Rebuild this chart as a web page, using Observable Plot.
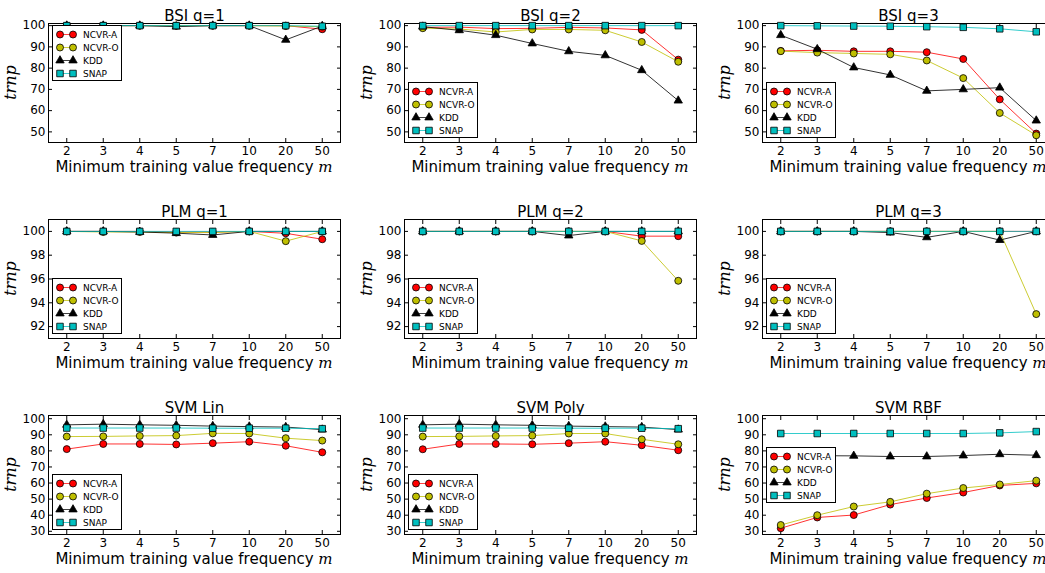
<!DOCTYPE html>
<html><head><meta charset="utf-8">
<script src="https://cdn.jsdelivr.net/npm/d3@7"></script>
<script src="https://cdn.jsdelivr.net/npm/@observablehq/plot@0.6"></script>
<style>
body{margin:0;background:#fff;overflow:hidden}
#wrap{position:relative;width:1045px;height:573px;overflow:hidden;font-family:"DejaVu Sans",sans-serif;background:#fff}
.panel{position:absolute}
.panel svg{max-width:none !important}
</style></head><body><div id="wrap"></div>
<script>
// ---- data ----
const mValues = [2, 3, 4, 5, 7, 10, 20, 50];
const methods = ["NCVR-A", "NCVR-O", "KDD", "SNAP"];
const methodColors = ["#ff0000", "#bfbf00", "#000000", "#00bfbf"];
const methodSymbols = ["circle", "circle", "triangle", "square"];

const bsiQ1NcvrA = [100, 100, 100, 100, 100, 100, 100, 98.3];
const bsiQ1NcvrO = [100, 100, 100, 100, 100, 100, 99.8, 99.5];
const bsiQ1Kdd   = [100, 100, 100, 99.5, 100, 100, 93.3, 99.8];
const bsiQ1Snap  = [100, 100, 100, 100, 100, 100, 100, 99.7];

const bsiQ2NcvrA = [99.2, 99.3, 98.6, 98.7, 99.2, 98.9, 98.0, 84.0];
const bsiQ2NcvrO = [98.8, 98.4, 97.0, 98.2, 98.2, 97.8, 92.3, 83.0];
const bsiQ2Kdd   = [99.5, 97.8, 95.5, 91.6, 87.9, 86.0, 79.0, 64.7];
const bsiQ2Snap  = [100, 100, 100, 100, 100, 100, 100, 100];

const bsiQ3NcvrA = [88.1, 88.4, 87.9, 87.9, 87.5, 84.3, 65.3, 49.2];
const bsiQ3NcvrO = [88.0, 87.3, 86.9, 86.5, 83.6, 75.3, 58.9, 48.4];
const bsiQ3Kdd   = [95.5, 88.9, 80.3, 76.8, 69.3, 70.0, 70.8, 55.3];
const bsiQ3Snap  = [100, 99.9, 99.8, 99.7, 99.5, 99.2, 98.5, 97.1];

const plmQ1NcvrA = [100, 100, 100, 99.95, 99.95, 100, 99.84, 99.34];
const plmQ1NcvrO = [100, 99.95, 99.95, 99.9, 99.9, 100, 99.18, 100];
const plmQ1Kdd   = [100, 100, 99.95, 99.85, 99.7, 100, 100, 100];
const plmQ1Snap  = [100, 100, 100, 100, 100, 100, 100, 100];

const plmQ2NcvrA = [100, 100, 100, 100, 100, 100, 99.6, 99.6];
const plmQ2NcvrO = [100, 100, 100, 100, 100, 100, 99.2, 95.85];
const plmQ2Kdd   = [100, 100, 100, 100, 99.65, 100, 100, 100];
const plmQ2Snap  = [100, 100, 100, 100, 100, 100, 100, 100];

const plmQ3NcvrA = [100, 100, 100, 100, 100, 100, 100, 100];
const plmQ3NcvrO = [100, 100, 100, 100, 100, 100, 100, 93.05];
const plmQ3Kdd   = [100, 100, 100, 99.9, 99.5, 100, 99.27, 100];
const plmQ3Snap  = [100, 100, 100, 100, 100, 100, 100, 100];

const svmLinNcvrA = [81.1, 84.3, 84.3, 84.0, 84.8, 85.7, 83.2, 79.1];
const svmLinNcvrO = [88.9, 89.0, 89.3, 89.5, 90.9, 90.8, 87.9, 86.4];
const svmLinKdd   = [96.2, 96.6, 96.2, 95.9, 95.4, 95.1, 94.8, 93.2];
const svmLinSnap  = [94.2, 94.2, 94.2, 94.2, 94.1, 94.1, 94.1, 93.8];

const svmPolyNcvrA = [81.0, 84.3, 84.3, 84.1, 84.8, 85.7, 83.5, 80.4];
const svmPolyNcvrO = [88.9, 89.0, 89.3, 89.5, 90.8, 90.8, 87.2, 84.1];
const svmPolyKdd   = [96.2, 96.6, 96.2, 95.9, 95.4, 95.1, 94.8, 93.2];
const svmPolySnap  = [94.2, 94.2, 94.2, 94.2, 94.1, 94.1, 94.1, 93.8];

const svmRbfNcvrA = [31.9, 38.6, 40.1, 46.6, 50.7, 54.1, 58.5, 59.8];
const svmRbfNcvrO = [33.9, 40.0, 45.4, 48.3, 53.4, 56.9, 59.1, 61.5];
const svmRbfKdd   = [76.8, 77.0, 76.9, 76.5, 76.5, 77.1, 77.9, 77.3];
const svmRbfSnap  = [90.8, 90.8, 90.8, 90.8, 90.8, 90.8, 91.2, 92.0];

const yTicksBSI = [50, 60, 70, 80, 90, 100];
const yTicksPLM = [92, 94, 96, 98, 100];
const yTicksSVM = [30, 40, 50, 60, 70, 80, 90, 100];
const yDomainBSI = [45, 101];
const yDomainPLM = [91, 101];
const yDomainSVM = [28, 102];

const xLabelText = "Minimum training value frequency ";
const xLabelVar = "m";
const yLabelText = "trnp";

const panels = [
  {title: "BSI q=1", series: [bsiQ1NcvrA, bsiQ1NcvrO, bsiQ1Kdd, bsiQ1Snap], yDomain: yDomainBSI, yTicks: yTicksBSI, legend: "upper"},
  {title: "BSI q=2", series: [bsiQ2NcvrA, bsiQ2NcvrO, bsiQ2Kdd, bsiQ2Snap], yDomain: yDomainBSI, yTicks: yTicksBSI, legend: "lower"},
  {title: "BSI q=3", series: [bsiQ3NcvrA, bsiQ3NcvrO, bsiQ3Kdd, bsiQ3Snap], yDomain: yDomainBSI, yTicks: yTicksBSI, legend: "lower"},
  {title: "PLM q=1", series: [plmQ1NcvrA, plmQ1NcvrO, plmQ1Kdd, plmQ1Snap], yDomain: yDomainPLM, yTicks: yTicksPLM, legend: "lower"},
  {title: "PLM q=2", series: [plmQ2NcvrA, plmQ2NcvrO, plmQ2Kdd, plmQ2Snap], yDomain: yDomainPLM, yTicks: yTicksPLM, legend: "lower"},
  {title: "PLM q=3", series: [plmQ3NcvrA, plmQ3NcvrO, plmQ3Kdd, plmQ3Snap], yDomain: yDomainPLM, yTicks: yTicksPLM, legend: "lower"},
  {title: "SVM Lin", series: [svmLinNcvrA, svmLinNcvrO, svmLinKdd, svmLinSnap], yDomain: yDomainSVM, yTicks: yTicksSVM, legend: "lower"},
  {title: "SVM Poly", series: [svmPolyNcvrA, svmPolyNcvrO, svmPolyKdd, svmPolySnap], yDomain: yDomainSVM, yTicks: yTicksSVM, legend: "lower"},
  {title: "SVM RBF", series: [svmRbfNcvrA, svmRbfNcvrO, svmRbfKdd, svmRbfSnap], yDomain: yDomainSVM, yTicks: yTicksSVM, legend: "center"}
];

// ---- layout ----
const colLeft = [48, 404, 762];
const rowTop = [23, 219, 415];
const FW = 292, FH = 119;
const ML = 48, MT = 23, MR = 6, MB = 40;
const idx = d3.range(mValues.length);
const symbolR = [3.5, 3.5, 3.1, 3.7];

const wrap = document.getElementById("wrap");

function addLegend(svg, pos) {
  const lw = 69, lh = 55;
  const x0 = ML + 4;
  let y0;
  if (pos === "upper") y0 = MT + 2;
  else if (pos === "center") y0 = MT + Math.round((FH - lh) / 2);
  else y0 = MT + FH - 5 - lh;
  const g = d3.select(svg).append("g").attr("class", "legend");
  g.append("rect").attr("x", x0 + 0.5).attr("y", y0 + 0.5).attr("width", lw).attr("height", lh)
    .attr("fill", "#fff").attr("stroke", "#000").attr("stroke-width", 1);
  const symMap = {circle: d3.symbolCircle, triangle: d3.symbolTriangle, square: d3.symbolSquare};
  methods.forEach((m, i) => {
    const cy = y0 + 9.5 + i * 13;
    g.append("line").attr("x1", x0 + 8).attr("x2", x0 + 21).attr("y1", cy).attr("y2", cy)
      .attr("stroke", methodColors[i]).attr("stroke-width", 1).attr("stroke-opacity", 0.75);
    [x0 + 8, x0 + 21].forEach(cx => {
      g.append("path").attr("d", d3.symbol(symMap[methodSymbols[i]], Math.PI * symbolR[i] * symbolR[i])())
        .attr("transform", `translate(${cx},${cy})`)
        .attr("fill", methodColors[i]).attr("stroke", "#000").attr("stroke-width", 0.8);
    });
    g.append("text").attr("x", x0 + 31).attr("y", cy).attr("dy", "0.35em").attr("text-anchor", "start")
      .attr("font-size", 9).attr("font-family", "DejaVu Sans").attr("fill", "#000").text(m);
  });
}

panels.forEach((p, k) => {
  const col = k % 3, row = Math.floor(k / 3);
  const rows = [];
  methods.forEach((m, i) => p.series[i].forEach((v, j) => rows.push({method: m, idx: j, value: v})));
  const marks = [
    Plot.frame({stroke: "#000", strokeWidth: 1}),
    Plot.axisX({anchor: "bottom", ticks: idx, tickFormat: i => mValues[i], tickSize: -4, tickPadding: 8, label: null, fontSize: 12}),
    Plot.axisX({anchor: "top", ticks: idx, tickFormat: () => "", tickSize: -4, label: null}),
    Plot.axisY({anchor: "left", ticks: p.yTicks, tickSize: -4, tickPadding: 7, label: null, fontSize: 12}),
    Plot.axisY({anchor: "right", ticks: p.yTicks, tickFormat: () => "", tickSize: -4, label: null})
  ];
  methods.forEach((m, i) => {
    const d = rows.filter(r => r.method === m);
    marks.push(Plot.line(d, {x: "idx", y: "value", stroke: methodColors[i], strokeWidth: 1, strokeOpacity: 0.8}));
    marks.push(Plot.dot(d, {x: "idx", y: "value", symbol: () => methodSymbols[i], fill: methodColors[i], stroke: "#000", strokeWidth: 0.8, r: symbolR[i]}));
  });
  marks.push(Plot.text([p.title], {text: d => d, frameAnchor: "top", dy: -3, lineAnchor: "bottom", fontSize: 15}));
  const W = ML + FW + MR, H = MT + FH + MB;
  const svg = Plot.plot({
    width: W, height: H,
    marginLeft: ML, marginRight: MR, marginTop: MT, marginBottom: MB,
    style: {fontFamily: "DejaVu Sans, sans-serif", fontSize: "12px", color: "#000", background: "transparent", overflow: "visible", maxWidth: "none"},
    x: {type: "linear", domain: [-0.5, 7.5]},
    y: {domain: p.yDomain},
    symbol: {type: "identity"},
    marks
  });
  svg.style.maxWidth = "none";
  svg.style.width = W + "px";
  svg.style.height = H + "px";
  // axis labels
  const s = d3.select(svg);
  const xl = s.append("text").attr("x", ML + FW / 2).attr("y", MT + FH + 30).attr("text-anchor", "middle")
    .attr("font-size", 15).attr("font-family", "DejaVu Sans").attr("fill", "#000");
  xl.append("tspan").text(xLabelText);
  xl.append("tspan").attr("font-family", "DejaVu Serif").attr("font-style", "italic").text(xLabelVar);
  s.append("text").attr("transform", `translate(${ML - 32},${MT + FH / 2}) rotate(-90)`)
    .attr("text-anchor", "middle").attr("font-size", 16).attr("font-family", "DejaVu Serif")
    .attr("font-style", "italic").attr("fill", "#000").text(yLabelText);
  addLegend(svg, p.legend);
  const div = document.createElement("div");
  div.className = "panel";
  div.style.left = (colLeft[col] - ML) + "px";
  div.style.top = (rowTop[row] - MT) + "px";
  div.style.width = W + "px";
  div.style.height = H + "px";
  div.appendChild(svg);
  wrap.appendChild(div);
});
</script>
</body></html>
